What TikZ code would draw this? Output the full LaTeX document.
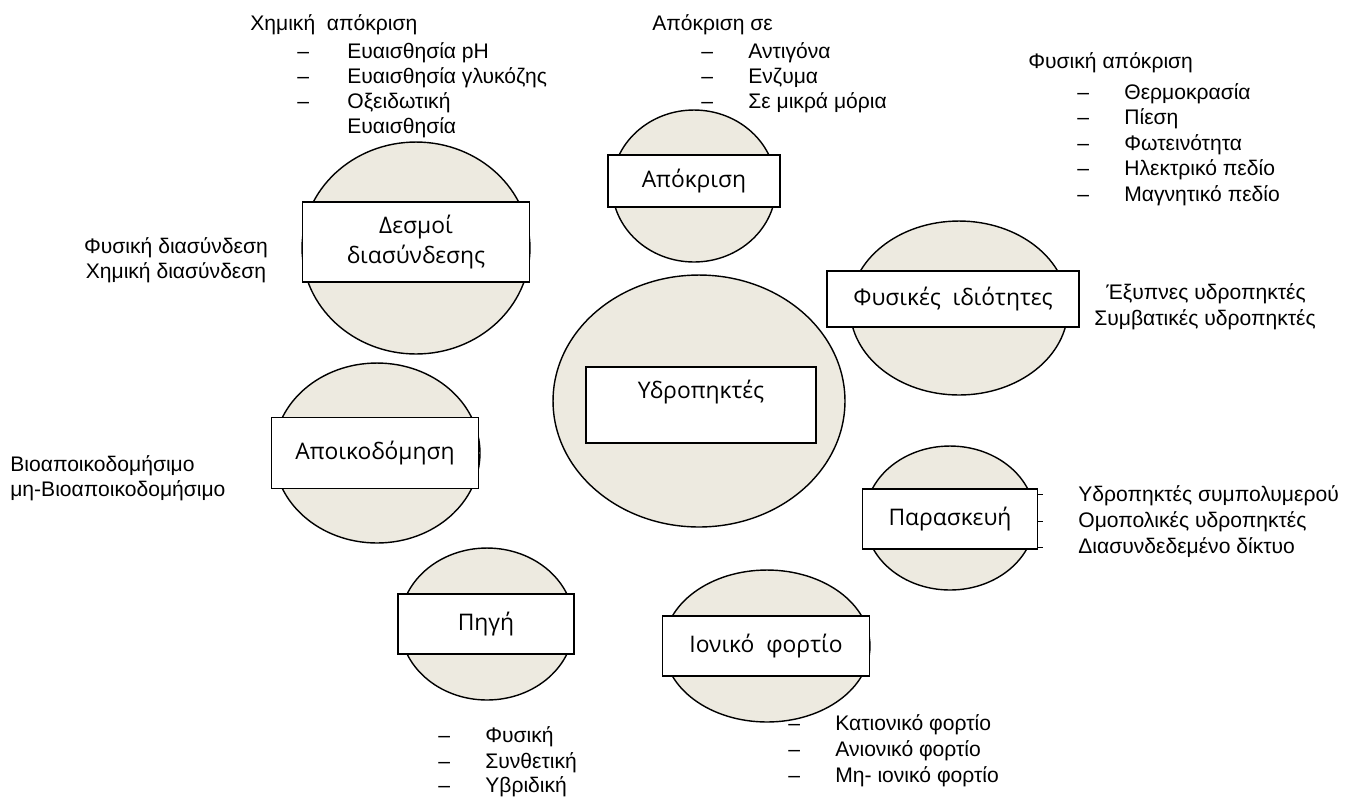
\documentclass[tikz,border=0pt]{standalone}
\usepackage{fontspec}
\setmainfont{Liberation Sans}
\newfontfamily\labelfont{Open Sans}
\usetikzlibrary{shapes.geometric}

\definecolor{gelfill}{HTML}{EDEAE0}

\tikzset{
  blob/.style={ellipse,draw=black,fill=gelfill,line width=0.8pt,inner sep=0pt},
  tag/.style={rectangle,draw=black,fill=white,line width=1pt,inner sep=0pt,align=center,
    font=\labelfont\fontsize{13}{17.5}\selectfont},
  txt/.style={anchor=base west,inner sep=0pt,font=\fontsize{12}{14}\selectfont},
  ctxt/.style={anchor=base,inner sep=0pt,font=\fontsize{12}{14}\selectfont},
}

\begin{document}
\begin{tikzpicture}[x=0.02cm,y=-0.02cm]
            \useasboundingbox (0,0) rectangle (1352,796);
            \begin{scope}[every node/.style={blob}]
                \node[minimum width=5.84cm,minimum height=5.04cm] (gel) at (699,401) {};
                \node[minimum width=3.28cm,minimum height=3.04cm] (resp) at (694,186) {};
                \node[minimum width=4.56cm,minimum height=4.24cm] (bonds) at (416,248) {};
                \node[minimum width=4.36cm,minimum height=3.48cm] (phys) at (959,308) {};
                \node[minimum width=4.12cm,minimum height=3.60cm] (degr) at (377,453) {};
                \node[minimum width=3.40cm,minimum height=2.88cm] (prep) at (950,518) {};
                \node[minimum width=4.12cm,minimum height=3.04cm] (ion) at (767,646) {};
                \node[minimum width=3.48cm,minimum height=3.04cm] (src) at (487,624) {};
            \end{scope}
            \begin{scope}[every node/.style={tag}]
                \node[minimum width=4.60cm,minimum height=1.52cm] (gelbox) at (701,405) {Υδροπηκτές\\\mbox{}};
                \node[minimum width=3.44cm,minimum height=1.04cm] (respbox) at (694,181) {Απόκριση};
                \node[minimum width=4.54cm,minimum height=1.60cm] (bondsbox) at (416,242) {Δεσμοί\\διασύνδεσης};
                \node[minimum width=5.04cm,minimum height=1.12cm] (physbox) at (953,299) {Φυσικές\ \ ιδιότητες};
                \node[minimum width=4.14cm,minimum height=1.42cm] (degrbox) at (375,453) {Αποικοδόμηση};
                \node[minimum width=3.50cm,minimum height=1.20cm] (prepbox) at (950,519) {Παρασκευή};
                \node[minimum width=4.14cm,minimum height=1.20cm] (ionbox) at (766,646) {Ιονικό\ \ φορτίο};
                \node[minimum width=3.52cm,minimum height=1.20cm] (srcbox) at (486,624) {Πηγή};
            \end{scope}
            % chemical response
            \node[txt] (chem) at (250,30) {Χημική\ \ απόκριση};
            \node[txt] (chemd1) at (297,58) {--};
            \node[txt] (chemd2) at (297,83) {--};
            \node[txt] (chemd3) at (297,108) {--};
            \node[txt] (chem1) at (347,58) {Ευαισθησία pH};
            \node[txt] (chem2) at (347,83) {Ευαισθησία γλυκόζης};
            \node[txt] (chem3) at (347,108) {Οξειδωτική};
            \node[txt] (chem4) at (347,133) {Ευαισθησία};
            % response to
            \node[txt] (to) at (652,30) {Απόκριση σε};
            \node[txt] (tod1) at (701,58) {--};
            \node[txt] (tod2) at (701,83) {--};
            \node[txt] (tod3) at (701,108) {--};
            \node[txt] (to1) at (748,58) {Αντιγόνα};
            \node[txt] (to2) at (748,83) {Ενζυμα};
            \node[txt] (to3) at (748,108) {Σε μικρά μόρια};
            % physical response
            \node[txt] (phr) at (1028,68) {Φυσική απόκριση};
            \node[txt] (phrd1) at (1077,99) {--};
            \node[txt] (phrd2) at (1077,124) {--};
            \node[txt] (phrd3) at (1077,150) {--};
            \node[txt] (phrd4) at (1077,175) {--};
            \node[txt] (phrd5) at (1077,201) {--};
            \node[txt] (phr1) at (1124,99) {Θερμοκρασία};
            \node[txt] (phr2) at (1124,124) {Πίεση};
            \node[txt] (phr3) at (1124,150) {Φωτεινότητα};
            \node[txt] (phr4) at (1124,175) {Ηλεκτρικό πεδίο};
            \node[txt] (phr5) at (1124,201) {Μαγνητικό πεδίο};
            % crosslinks
            \node[ctxt] (cl1) at (176,253) {Φυσική διασύνδεση};
            \node[ctxt] (cl2) at (176,278) {Χημική διασύνδεση};
            % kinds
            \node[ctxt] (kd1) at (1206,299) {Έξυπνες υδροπηκτές};
            \node[ctxt] (kd2) at (1205,325) {Συμβατικές υδροπηκτές};
            % degradation
            \node[txt] (bio1) at (10,471) {Βιοαποικοδομήσιμο};
            \node[txt] (bio2) at (10,496) {μη-Βιοαποικοδομήσιμο};
            % preparation
            \draw (prepbox.east |- 0,494) -- ++(5,0);
            \draw (prepbox.east |- 0,521) -- ++(5,0);
            \draw (prepbox.east |- 0,547) -- ++(5,0);
            \node[txt] (pr1) at (1078,501) {Υδροπηκτές συμπολυμερού};
            \node[txt] (pr2) at (1078,527) {Ομοπολικές υδροπηκτές};
            \node[txt] (pr3) at (1078,553) {Διασυνδεδεμένο δίκτυο};
            % ionic charge
            \node[txt] (iond1) at (788,730) {--};
            \node[txt] (iond2) at (788,756) {--};
            \node[txt] (iond3) at (788,782) {--};
            \node[txt] (ion1) at (835,730) {Κατιονικό φορτίο};
            \node[txt] (ion2) at (835,756) {Ανιονικό φορτίο};
            \node[txt] (ion3) at (835,782) {Μη- ιονικό φορτίο};
            % source
            \node[txt] (srcd1) at (438,742) {--};
            \node[txt] (srcd2) at (438,768) {--};
            \node[txt] (srcd3) at (438,792) {--};
            \node[txt] (src1) at (485,742) {Φυσική};
            \node[txt] (src2) at (485,768) {Συνθετική};
            \node[txt] (src3) at (485,792) {Υβριδική};
        \end{tikzpicture}
\end{document}
